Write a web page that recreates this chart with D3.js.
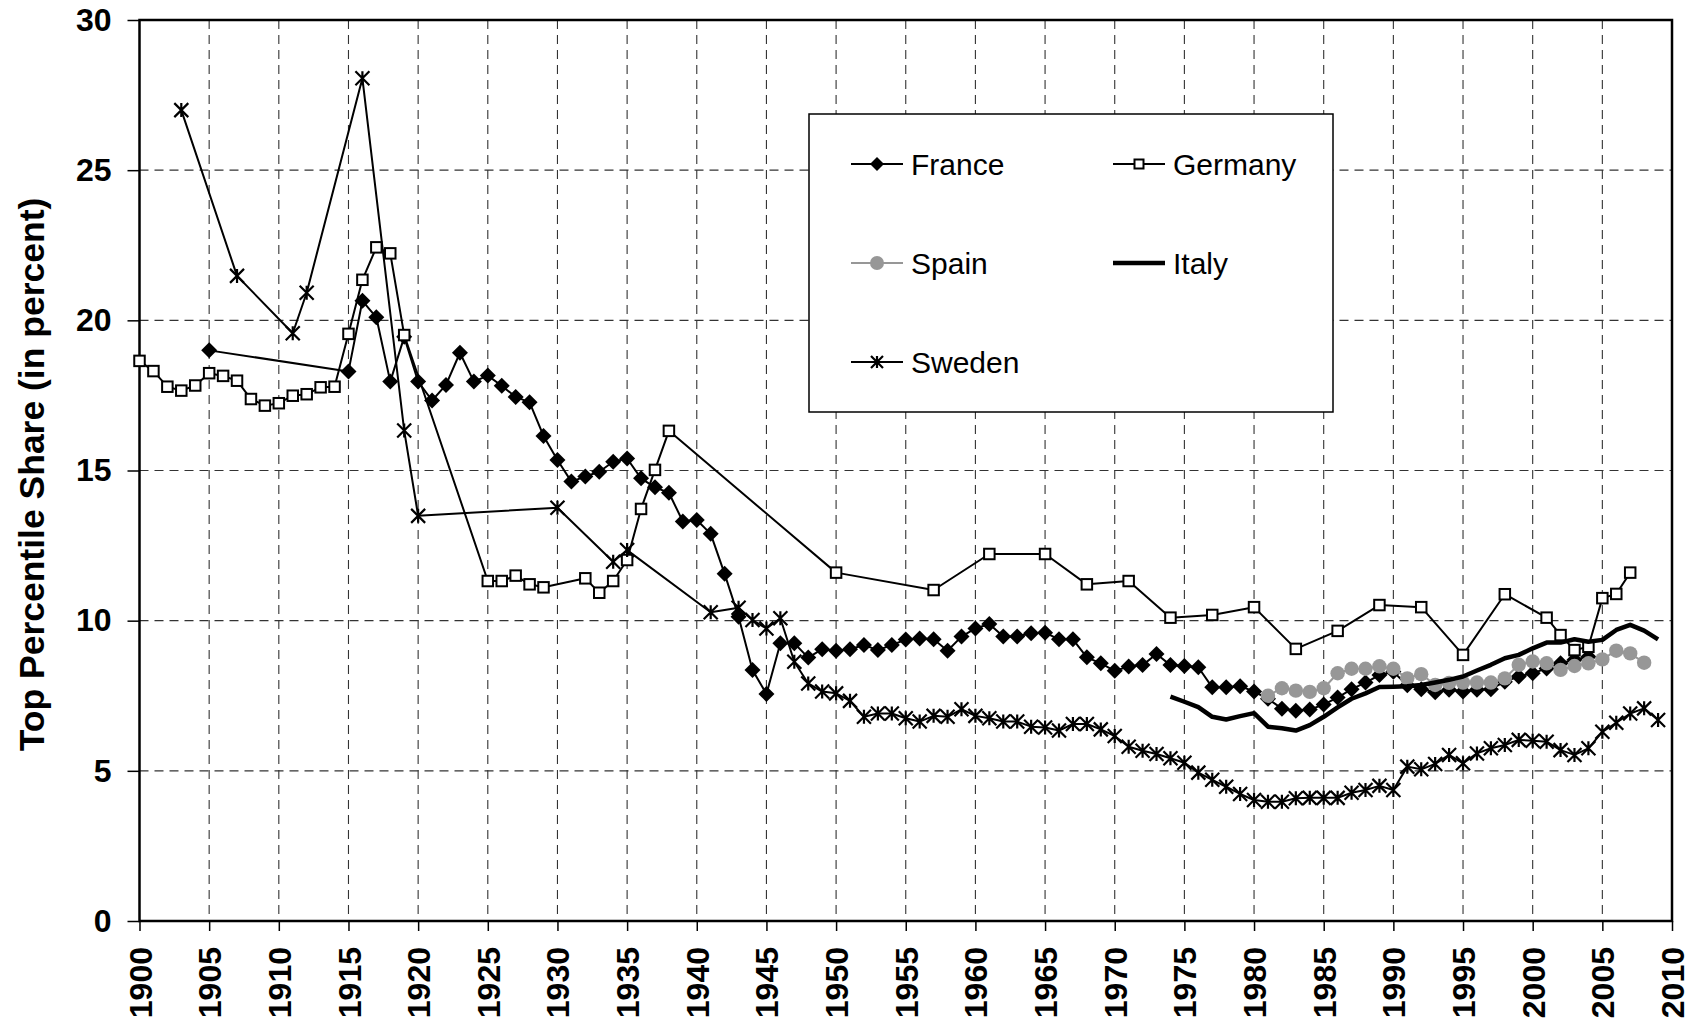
<!DOCTYPE html>
<html>
<head>
<meta charset="utf-8">
<script src="https://cdn.jsdelivr.net/npm/d3@7"></script>
<style>
  html, body { margin: 0; padding: 0; background: #fff; }
  svg { display: block; font-family: Arial, "Liberation Sans", sans-serif; }
</style>
</head>
<body>
<svg id="chart" width="1700" height="1018"></svg>
<script>
// ---------------- DATA ----------------
const franceYears = [1905,1915,1916,1917,1918,1919,1920,1921,1922,1923,1924,1925,1926,1927,1928,1929,1930,1931,1932,1933,1934,1935,1936,1937,1938,1939,1940,1941,1942,1943,1944,1945,1946,1947,1948,1949,1950,1951,1952,1953,1954,1955,1956,1957,1958,1959,1960,1961,1962,1963,1964,1965,1966,1967,1968,1969,1970,1971,1972,1973,1974,1975,1976,1977,1978,1979,1980,1981,1982,1983,1984,1985,1986,1987,1988,1989,1990,1991,1992,1993,1994,1995,1996,1997,1998,1999,2000,2001,2002,2003,2004];
const franceValues = [19.0,18.3,20.65,20.1,17.96,19.45,17.96,17.33,17.85,18.92,17.96,18.16,17.82,17.45,17.27,16.15,15.35,14.63,14.8,14.96,15.29,15.4,14.74,14.44,14.26,13.3,13.35,12.89,11.56,10.13,8.36,7.56,9.25,9.25,8.77,9.05,9.0,9.05,9.19,9.02,9.19,9.37,9.41,9.38,9.0,9.47,9.74,9.89,9.47,9.47,9.58,9.6,9.38,9.38,8.78,8.58,8.33,8.47,8.52,8.89,8.52,8.49,8.45,7.78,7.78,7.82,7.64,7.4,7.07,7.0,7.04,7.21,7.44,7.72,7.94,8.19,8.3,7.85,7.72,7.62,7.7,7.64,7.7,7.72,7.97,8.14,8.25,8.41,8.58,8.7,8.8];

const germanyYears = [1900,1901,1902,1903,1904,1905,1906,1907,1908,1909,1910,1911,1912,1913,1914,1915,1916,1917,1918,1919,1925,1926,1927,1928,1929,1932,1933,1934,1935,1936,1937,1938,1950,1957,1961,1965,1968,1971,1974,1977,1980,1983,1986,1989,1992,1995,1998,2001,2002,2003,2004,2005,2006,2007];
const germanyValues = [18.65,18.31,17.79,17.66,17.83,18.24,18.15,17.99,17.38,17.16,17.24,17.49,17.54,17.77,17.79,19.55,21.35,22.43,22.23,19.51,11.32,11.32,11.5,11.21,11.11,11.41,10.93,11.32,12.02,13.72,15.02,16.32,11.6,11.02,12.22,12.22,11.21,11.32,10.1,10.19,10.45,9.06,9.66,10.52,10.45,8.86,10.88,10.1,9.52,9.02,9.13,10.75,10.89,11.6];

const spainYears = [1981,1982,1983,1984,1985,1986,1987,1988,1989,1990,1991,1992,1993,1994,1995,1996,1997,1998,1999,2000,2001,2002,2003,2004,2005,2006,2007,2008];
const spainValues = [7.5,7.75,7.67,7.63,7.75,8.25,8.4,8.4,8.48,8.4,8.08,8.22,7.86,7.93,7.94,7.94,7.94,8.08,8.53,8.64,8.58,8.36,8.49,8.58,8.71,9.0,8.91,8.6];

const italyYears = [1974,1975,1976,1977,1978,1979,1980,1981,1982,1983,1984,1985,1986,1987,1988,1989,1990,1991,1992,1993,1994,1995,1996,1997,1998,1999,2000,2001,2002,2003,2004,2005,2006,2007,2008,2009];
const italyValues = [7.47,7.3,7.12,6.8,6.71,6.82,6.92,6.47,6.42,6.34,6.52,6.8,7.11,7.4,7.58,7.79,7.8,7.82,7.86,7.94,8.03,8.14,8.34,8.53,8.75,8.86,9.08,9.27,9.27,9.38,9.3,9.36,9.69,9.86,9.67,9.38];

const swedenYears = [1903,1907,1911,1912,1916,1919,1920,1930,1934,1935,1941,1943,1944,1945,1946,1947,1948,1949,1950,1951,1952,1953,1954,1955,1956,1957,1958,1959,1960,1961,1962,1963,1964,1965,1966,1967,1968,1969,1970,1971,1972,1973,1974,1975,1976,1977,1978,1979,1980,1981,1982,1983,1984,1985,1986,1987,1988,1989,1990,1991,1992,1993,1994,1995,1996,1997,1998,1999,2000,2001,2002,2003,2004,2005,2006,2007,2008,2009];
const swedenValues = [27.0,21.48,19.57,20.92,28.06,16.33,13.49,13.76,11.96,12.35,10.28,10.43,10.02,9.74,10.08,8.63,7.91,7.64,7.58,7.33,6.8,6.91,6.91,6.75,6.64,6.83,6.8,7.05,6.83,6.75,6.64,6.64,6.47,6.44,6.34,6.56,6.56,6.38,6.16,5.8,5.67,5.56,5.42,5.27,4.94,4.7,4.47,4.23,4.03,3.97,3.97,4.09,4.1,4.1,4.1,4.27,4.36,4.5,4.36,5.14,5.05,5.23,5.53,5.25,5.58,5.75,5.86,6.03,6.0,5.97,5.69,5.53,5.75,6.3,6.6,6.91,7.08,6.69];

const yTicks = [0,5,10,15,20,25,30];
const xTicks = [1900,1905,1910,1915,1920,1925,1930,1935,1940,1945,1950,1955,1960,1965,1970,1975,1980,1985,1990,1995,2000,2005,2010];
const yTitle = "Top Percentile Share (in percent)";
const legendNames = ["France","Germany","Spain","Italy","Sweden"];

// ---------------- LAYOUT ----------------
const svg = d3.select("#chart");
const L = 139.5, R = 1672, T = 20, B = 921;
const x = d3.scaleLinear().domain([1900, 2010]).range([L, R]);
const y = d3.scaleLinear().domain([0, 30]).range([B, T]);
const zip = (ys, vs) => ys.map((yr, i) => ({year: yr, value: vs[i]}));

const france = zip(franceYears, franceValues);
const germany = zip(germanyYears, germanyValues);
const spain = zip(spainYears, spainValues);
const italy = zip(italyYears, italyValues);
const sweden = zip(swedenYears, swedenValues);

// gridlines
const grid = svg.append("g");
grid.selectAll("line.h").data(yTicks.filter(t => t > 0 && t < 30)).join("line")
  .attr("x1", L).attr("x2", R).attr("y1", d => y(d)).attr("y2", d => y(d))
  .attr("stroke", "#333").attr("stroke-width", 1.1).attr("stroke-dasharray", "9,6");
grid.selectAll("line.v").data(xTicks.filter(t => t > 1900 && t < 2010)).join("line")
  .attr("x1", d => x(d)).attr("x2", d => x(d)).attr("y1", T).attr("y2", B)
  .attr("stroke", "#333").attr("stroke-width", 1.1).attr("stroke-dasharray", "9,6");

// axes
const yAxis = d3.axisLeft(y).tickValues(yTicks).tickSize(12).tickPadding(16).tickFormat(d3.format("d"));
const gy = svg.append("g").attr("transform", `translate(${L},0)`).call(yAxis);
gy.select(".domain").remove();
gy.selectAll(".tick line").attr("stroke", "#000").attr("stroke-width", 1.5);
gy.selectAll(".tick text").attr("font-size", 32).attr("font-weight", "bold").attr("fill", "#000")
  .attr("font-family", "Arial, 'Liberation Sans', sans-serif");

const xAxis = d3.axisBottom(x).tickValues(xTicks).tickSize(10).tickFormat(d3.format("d"));
const gx = svg.append("g").attr("transform", `translate(0,${B})`).call(xAxis);
gx.select(".domain").remove();
gx.selectAll(".tick line").attr("stroke", "#000").attr("stroke-width", 1.5);
gx.selectAll(".tick text")
  .attr("font-size", 32).attr("font-weight", "bold").attr("fill", "#000")
  .attr("font-family", "Arial, 'Liberation Sans', sans-serif")
  .attr("text-anchor", "end")
  .attr("transform", "rotate(-90)")
  .attr("x", -26).attr("y", 0).attr("dy", "0.36em");

// plot frame
svg.append("rect").attr("x", L).attr("y", T).attr("width", R - L).attr("height", B - T)
  .attr("fill", "none").attr("stroke", "#000").attr("stroke-width", 2.5);

// y title
svg.append("text").attr("transform", `translate(44,${(T + B) / 2 + 4}) rotate(-90)`)
  .attr("text-anchor", "middle").attr("font-size", 35.5).attr("font-weight", "bold")
  .text(yTitle);

// ---------------- MARKERS ----------------
function drawDiamond(g, r) {
  g.append("path").attr("d", `M0,${-r}L${r},0L0,${r}L${-r},0Z`).attr("fill", "#000");
}
function drawSquare(g, s) {
  g.append("rect").attr("x", -s/2).attr("y", -s/2).attr("width", s).attr("height", s)
    .attr("fill", "#fff").attr("stroke", "#000").attr("stroke-width", 2);
}
function drawAsterisk(g, s) {
  g.append("path").attr("d", `M${-s},${-s}L${s},${s}M${-s},${s}L${s},${-s}M0,${-s}L0,${s}`)
    .attr("stroke", "#000").attr("stroke-width", 2.2).attr("fill", "none");
}
function drawCircle(g, r) {
  g.append("circle").attr("r", r).attr("fill", "#979797");
}

const line = d3.line().x(d => x(d.year)).y(d => y(d.value));

function series(data, color, width, markerFn) {
  const g = svg.append("g");
  g.append("path").datum(data).attr("d", line).attr("fill", "none")
    .attr("stroke", color).attr("stroke-width", width).attr("stroke-linejoin", "round");
  if (markerFn) {
    g.selectAll("g.m").data(data).join("g")
      .attr("transform", d => `translate(${x(d.year)},${y(d.value)})`)
      .each(function () { markerFn(d3.select(this)); });
  }
}

series(france, "#000", 2, g => drawDiamond(g, 8));
series(germany, "#000", 2, g => drawSquare(g, 10.5));
series(spain, "#979797", 2, g => drawCircle(g, 7.2));
series(italy, "#000", 4.5, null);
series(sweden, "#000", 2, g => drawAsterisk(g, 7));

// ---------------- LEGEND ----------------
const lg = svg.append("g");
lg.append("rect").attr("x", 809).attr("y", 114).attr("width", 524).attr("height", 298)
  .attr("fill", "#fff").attr("stroke", "#000").attr("stroke-width", 1.5);

const legendItems = [
  {name: legendNames[0], cx: 851, cy: 164, color: "#000", w: 2, m: g => drawDiamond(g, 7)},
  {name: legendNames[1], cx: 1113, cy: 164, color: "#000", w: 2, m: g => drawSquare(g, 9)},
  {name: legendNames[2], cx: 851, cy: 263, color: "#979797", w: 2, m: g => drawCircle(g, 7)},
  {name: legendNames[3], cx: 1113, cy: 263, color: "#000", w: 4.5, m: null},
  {name: legendNames[4], cx: 851, cy: 362, color: "#000", w: 2, m: g => drawAsterisk(g, 6)}
];
legendItems.forEach(it => {
  const g = lg.append("g").attr("transform", `translate(${it.cx},${it.cy})`);
  g.append("line").attr("x1", 0).attr("x2", 52).attr("y1", 0).attr("y2", 0)
    .attr("stroke", it.color).attr("stroke-width", it.w);
  if (it.m) { const mg = g.append("g").attr("transform", "translate(26,0)"); it.m(mg); }
  g.append("text").attr("x", 60).attr("y", 0).attr("dy", "0.36em")
    .attr("font-size", 30).attr("fill", "#000").text(it.name);
});
</script>
</body>
</html>
